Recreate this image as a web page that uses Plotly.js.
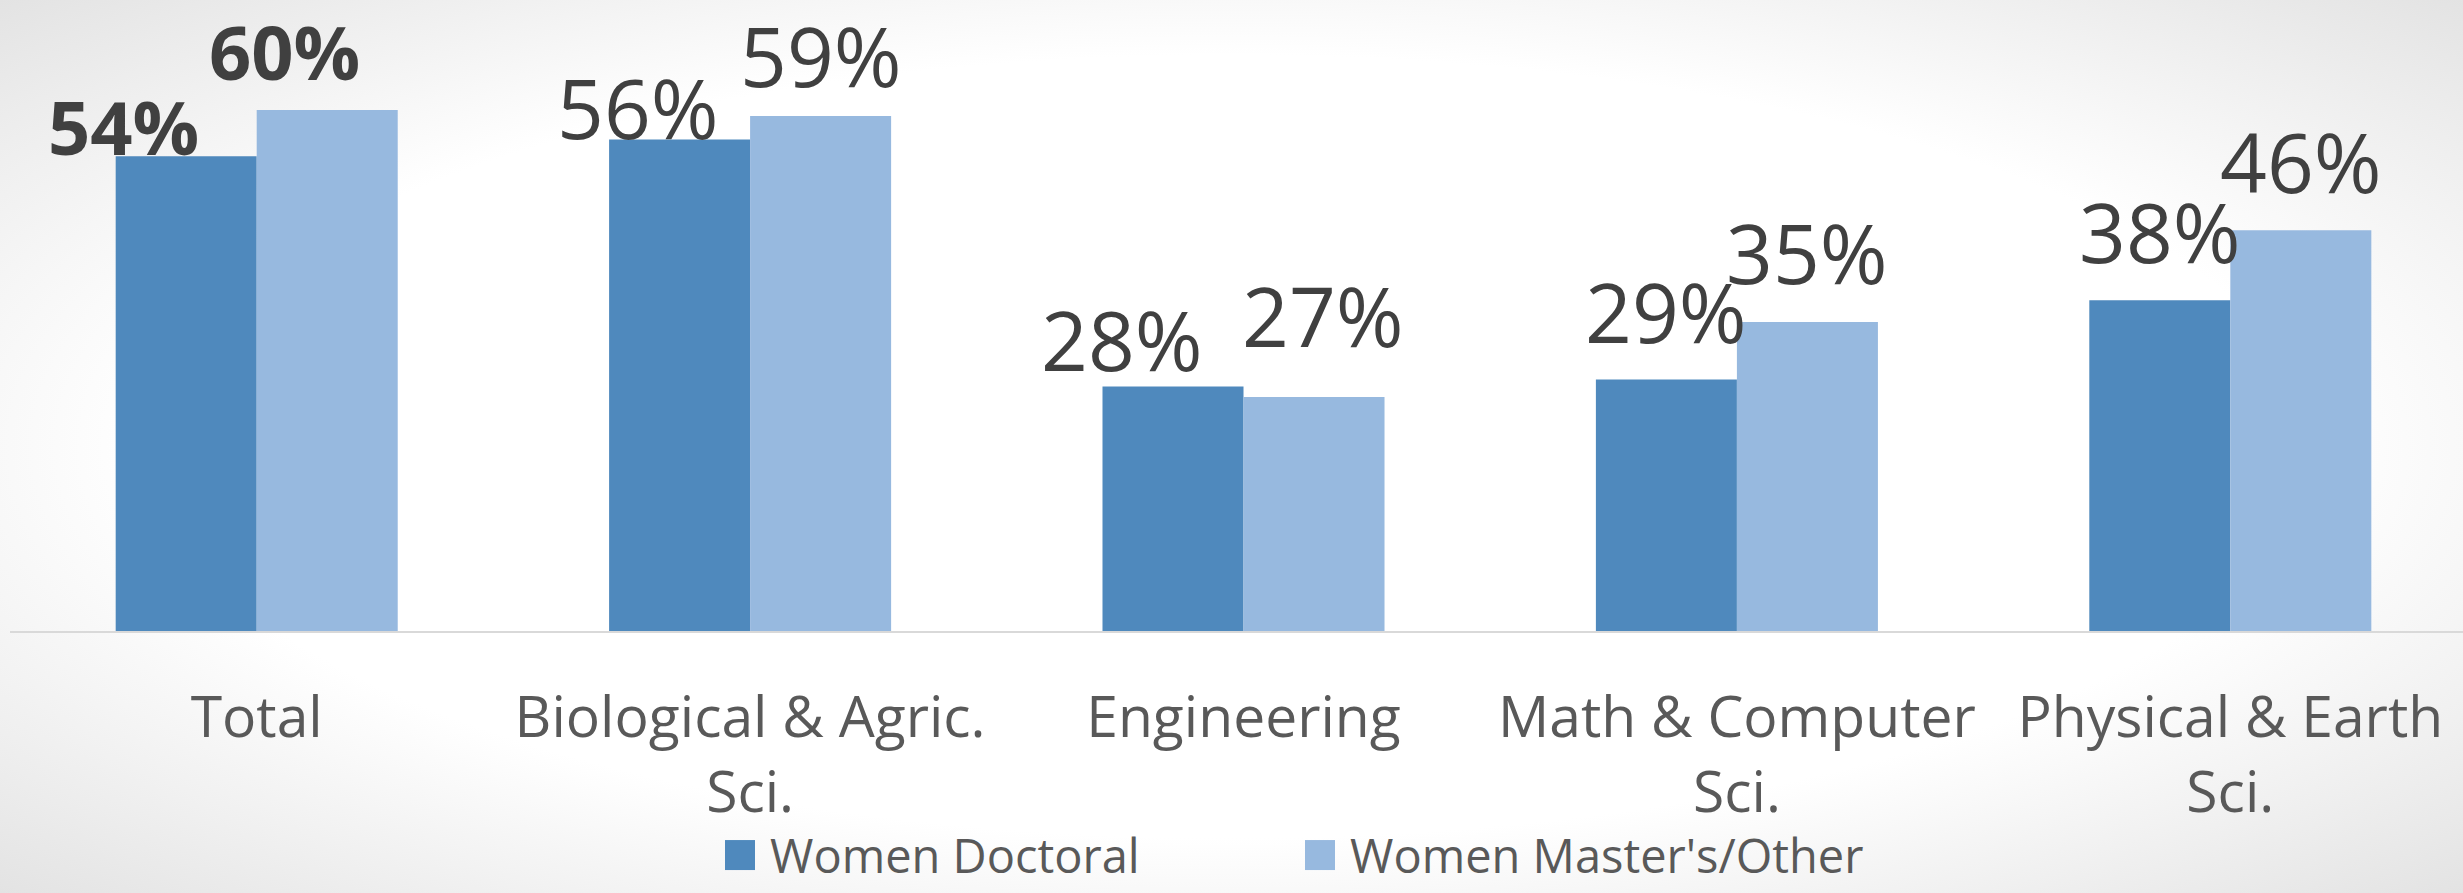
<!DOCTYPE html>
<html>
<head>
<meta charset="utf-8">
<script src="https://cdn.plot.ly/plotly-3.0.1.min.js"></script>
<style>
html, body { margin:0; padding:0; width:2463px; height:893px; overflow:hidden;
  background: radial-gradient(ellipse farthest-corner at 50% 50%, #ffffff 62%, #e3e3e3 100%); }
#chart { width:2463px; height:893px; }
</style>
</head>
<body>
<div id="chart"></div>
<script>
// ---- data ----
const categories = ['Total', 'Biological & Agric. Sci.', 'Engineering', 'Math & Computer Sci.', 'Physical & Earth Sci.'];
const tickLabels = ['Total', 'Biological & Agric.<br>Sci.', 'Engineering', 'Math & Computer<br>Sci.', 'Physical & Earth<br>Sci.'];
const seriesNames = ['Women Doctoral', "Women Master's/Other"];
const womenDoctoral = [54.4, 56.3, 28.0, 28.8, 37.9];
const womenMasters = [59.7, 59.0, 26.8, 35.4, 45.9];
const doctoralLabels = ['54%', '56%', '28%', '29%', '38%'];
const mastersLabels = ['60%', '59%', '27%', '35%', '46%'];

// ---- styling / layout config ----
const colors = ['#4F89BD', '#97B9DF'];
const BARGAP = 0.4284;
const half = (1 - BARGAP) / 4;           // offset of each bar centre from category centre
const BASE_GAP = 36;                     // px between label baseline and bar top
const DESC_REG = 25, DESC_BOLD = 23;     // baseline offset inside annotation box
// manual label nudges [dx, dGap] in px (as placed in the original)
const doctoralNudge = [[-63, -36], [-42, -36], [-51, -21], [0, 0], [0, 0]];
const mastersNudge  = [[-43, -7], [0, -8], [9, 13], [0, 1], [0, 0]];

const regFont = {family: 'Open Sans', size: 82, color: '#404040'};
const boldFont = {family: 'Open Sans', size: 74, color: '#404040', weight: 'bold'};

function labelAnns(values, labels, nudge, sign) {
  return values.map((v, i) => {
    const bold = i === 0;
    return {
      x: i + sign * half, y: v, xref: 'x', yref: 'y',
      text: labels[i], showarrow: false,
      xanchor: 'center', yanchor: 'bottom',
      xshift: nudge[i][0],
      yshift: BASE_GAP + nudge[i][1] - (bold ? DESC_BOLD : DESC_REG),
      font: bold ? boldFont : regFont
    };
  });
}

const traces = [
  {type: 'bar', name: seriesNames[0], x: categories, y: womenDoctoral,
   marker: {color: colors[0], line: {width: 0}}, hoverinfo: 'skip'},
  {type: 'bar', name: seriesNames[1], x: categories, y: womenMasters,
   marker: {color: colors[1], line: {width: 0}}, hoverinfo: 'skip'}
];

const layout = {
  width: 2463, height: 893,
  margin: {l: 10, r: 0, t: 20, b: 262, pad: 0},
  paper_bgcolor: 'rgba(0,0,0,0)', plot_bgcolor: 'rgba(0,0,0,0)',
  barmode: 'group', bargap: BARGAP, bargroupgap: 0,
  font: {family: 'Open Sans', color: '#595959'},
  xaxis: {
    type: 'category', range: [-0.5, 4.4716],
    showline: true, linecolor: '#d9d9d9', linewidth: 2,
    ticks: '', tickvals: categories, ticktext: tickLabels,
    tickfont: {family: 'Open Sans', size: 57, color: '#595959'},
    ticklabelstandoff: 36,
    showgrid: false, zeroline: false, fixedrange: true
  },
  yaxis: {range: [0, 70], visible: false, showgrid: false, zeroline: false, fixedrange: true},
  showlegend: true,
  legend: {
    orientation: 'h', xref: 'container', yref: 'container',
    x: 710 / 2463, xanchor: 'left', y: 0, yanchor: 'bottom',
    font: {family: 'Open Sans', size: 47, color: '#595959'},
    itemwidth: 50, entrywidth: 515, bgcolor: 'rgba(0,0,0,0)', traceorder: 'normal'
  },
  annotations: labelAnns(womenDoctoral, doctoralLabels, doctoralNudge, -1)
    .concat(labelAnns(womenMasters, mastersLabels, mastersNudge, 1))
};

Plotly.newPlot('chart', traces, layout, {staticPlot: true, displayModeBar: false}).then(gd => {
  gd.querySelectorAll('.legend .legendpoints path').forEach(p => {
    p.setAttribute('transform', (p.getAttribute('transform') || '') + ' scale(2.5)');
  });
});
</script>
</body>
</html>
